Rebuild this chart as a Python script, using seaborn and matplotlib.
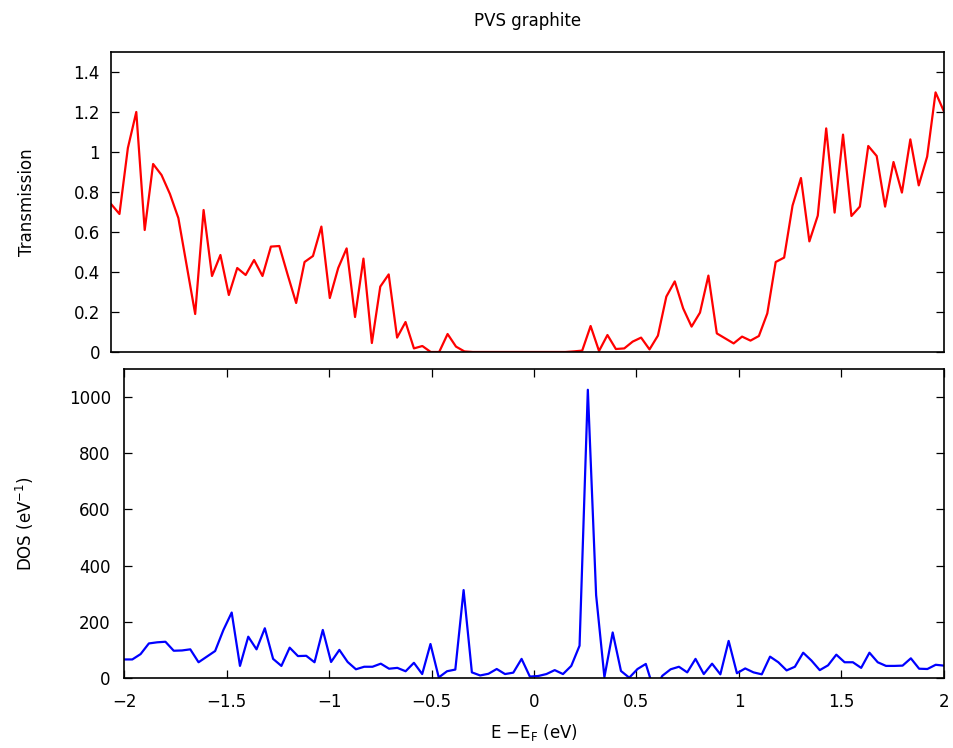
import numpy as np
import pandas as pd
import matplotlib
matplotlib.use("Agg")
import matplotlib.pyplot as plt
import seaborn as sns

# Energy grid (eV), 100 evenly spaced points from -2 to 2
energy = np.linspace(-2.0, 2.0, 100)

transmission = [
    0.74, 0.69, 1.02, 1.20, 0.61, 0.94, 0.885, 0.79, 0.67, 0.43,
    0.19, 0.71, 0.38, 0.485, 0.285, 0.42, 0.385, 0.46, 0.38, 0.527,
    0.53, 0.385, 0.245, 0.45, 0.48, 0.627, 0.27, 0.42, 0.518, 0.175,
    0.467, 0.045, 0.327, 0.388, 0.072, 0.15, 0.018, 0.03, 0.0, 0.0,
    0.09, 0.027, 0.003, 0.0, 0.0, 0.0, 0.0, 0.0, 0.0, 0.0,
    0.0, 0.0, 0.0, 0.0, 0.0, 0.003, 0.007, 0.13, 0.005, 0.085,
    0.015, 0.018, 0.052, 0.072, 0.013, 0.082, 0.277, 0.353, 0.218, 0.127,
    0.197, 0.382, 0.093, 0.068, 0.043, 0.077, 0.057, 0.08, 0.193, 0.45,
    0.472, 0.732, 0.87, 0.553, 0.682, 1.118, 0.697, 1.087, 0.68, 0.727,
    1.03, 0.98, 0.727, 0.95, 0.797, 1.063, 0.833, 0.977, 1.298, 1.202,
]

dos = [
    66, 66, 85, 123, 127, 129, 97, 98, 102, 56,
    76, 96, 171, 233, 43, 147, 102, 177, 68, 43,
    108, 78, 79, 56, 171, 57, 100, 57, 31, 40,
    40, 51, 33, 36, 24, 54, 14, 121, 2, 24,
    30, 313, 20, 9, 15, 32, 14, 19, 68, 5,
    7, 14, 28, 14, 43, 115, 1026, 295, 3, 162,
    25, 1, 32, 50, -45, 8, 31, 40, 20, 68,
    14, 51, 13, 132, 17, 34, 20, 13, 76, 56,
    27, 40, 90, 62, 28, 45, 83, 56, 56, 36,
    90, 56, 43, 43, 44, 70, 33, 32, 47, 44,
]

trans_ticks = [0, 0.2, 0.4, 0.6, 0.8, 1.0, 1.2, 1.4]
trans_ticklabels = ["0", "0.2", "0.4", "0.6", "0.8", "1", "1.2", "1.4"]
dos_ticks = [0, 200, 400, 600, 800, 1000]
x_ticks = [-2, -1.5, -1, -0.5, 0, 0.5, 1, 1.5, 2]
x_ticklabels = ["\u22122", "\u22121.5", "\u22121", "\u22120.5", "0", "0.5", "1", "1.5", "2"]

df = pd.DataFrame({"E": energy, "T": transmission, "DOS": dos})

sns.set_theme(style="white")
plt.rcParams["font.family"] = ["DejaVu Sans"]
plt.rcParams.update({
    "axes.edgecolor": "black",
    "axes.labelcolor": "black",
    "text.color": "black",
    "axes.linewidth": 1.2,
    "xtick.direction": "in",
    "ytick.direction": "in",
    "xtick.major.size": 6,
    "ytick.major.size": 6,
    "xtick.major.width": 0.9,
    "ytick.major.width": 0.9,
    "xtick.color": "black",
    "ytick.color": "black",
    "font.size": 12,
})

fig = plt.figure(figsize=(9.54, 7.48), dpi=100)
ax1 = fig.add_axes([0.1164, 0.5294, 0.9895 - 0.1164, 0.9305 - 0.5294])
ax2 = fig.add_axes([0.1300, 0.0936, 0.9895 - 0.1300, 0.5067 - 0.0936])

sns.lineplot(data=df, x="E", y="T", ax=ax1, color="red", linewidth=1.6)
sns.lineplot(data=df, x="E", y="DOS", ax=ax2, color="blue", linewidth=1.6)

ax1.set_xlim(-2, 2)
ax1.set_ylim(0, 1.5)
ax1.set_yticks(trans_ticks)
ax1.set_yticklabels(trans_ticklabels, fontsize=12)
ax1.set_xticks([])
ax1.set_xlabel("")
ax1.set_ylabel("Transmission", fontsize=12)
ax1.yaxis.set_label_coords(-0.090, 0.5)
ax1.tick_params(axis="y", which="both", left=True, right=True,
                labelsize=12, pad=8)
ax1.set_title("PVS graphite", fontsize=12, pad=19, color="black")

ax2.set_xlim(-2, 2)
ax2.set_ylim(0, 1100)
ax2.set_yticks(dos_ticks)
ax2.set_xticks(x_ticks)
ax2.set_xticklabels(x_ticklabels, fontsize=12)
ax2.tick_params(axis="both", which="both", left=True, right=True,
                top=True, bottom=True, labelsize=12)
ax2.tick_params(axis="x", pad=10.5)
ax2.tick_params(axis="y", pad=9.5)
ax2.set_xlabel("E $\\mathregular{-E_F}$ (eV)", fontsize=12, labelpad=8.5)
ax2.set_ylabel("DOS (eV$\\mathregular{^{-1}}$)", fontsize=12)
ax2.yaxis.set_label_coords(-0.1073, 0.5)

for ax in (ax1, ax2):
    for s in ax.spines.values():
        s.set_visible(True)
        s.set_color("black")
        s.set_linewidth(1.2)

fig.savefig("out.png", dpi=100, facecolor="white")
